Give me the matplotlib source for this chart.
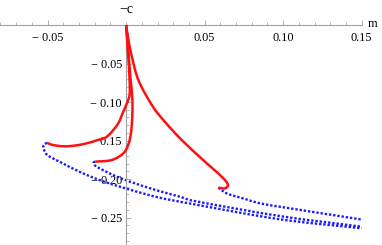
import matplotlib
matplotlib.use("Agg")
import numpy as np
import matplotlib.pyplot as plt
from matplotlib.path import Path
from matplotlib.patches import PathPatch
from matplotlib.ticker import MultipleLocator, FixedLocator

# Red (solid) branches
red_a_x = [0, 0.0013, 0.0022, 0.0022, 0.0006, -0.0019, -0.0051, -0.0123, -0.0186, -0.0250, -0.0324, -0.0399, -0.0473, -0.0504]
red_a_y = [0, -0.0390, -0.0714, -0.0909, -0.1013, -0.1130, -0.1279, -0.1451, -0.1497, -0.1536, -0.1565, -0.1575, -0.1555, -0.1529]

red_b_x = [0, 0.0016, 0.0029, 0.0040, 0.0038, 0.0029, 0.0013, -0.0017, -0.0091, -0.0197]
red_b_y = [0, -0.0390, -0.0714, -0.0974, -0.1234, -0.1429, -0.1558, -0.1666, -0.1753, -0.1775]

red_c_x = [0, 0.0012, 0.0032, 0.0078, 0.0172, 0.0248, 0.0354, 0.0490, 0.0617, 0.0649, 0.0630, 0.0587]
red_c_y = [0, -0.0160, -0.0370, -0.0714, -0.1065, -0.1260, -0.1494, -0.1753, -0.1987, -0.2078, -0.2121, -0.2113]

# Blue (dotted) branches
blue_1_x = [-0.0504, -0.0526, -0.0522, -0.0502, -0.0420, -0.0293, -0.0165, 0.0004, 0.0195, 0.0413, 0.0979, 0.1499]
blue_1_y = [-0.1529, -0.1562, -0.1623, -0.1688, -0.1779, -0.1909, -0.2017, -0.2126, -0.2234, -0.2321, -0.2523, -0.2640]

blue_2_x = [-0.0197, -0.0207, -0.0194, -0.0083, 0.0025, 0.0200, 0.0343, 0.0413, 0.0979, 0.1499]
blue_2_y = [-0.1775, -0.1786, -0.1831, -0.1948, -0.2035, -0.2150, -0.2230, -0.2277, -0.2481, -0.2619]

blue_3_x = [0.0587, 0.0640, 0.0752, 0.0852, 0.0979, 0.1499]
blue_3_y = [-0.2113, -0.2186, -0.2256, -0.2316, -0.2360, -0.2526]

x_major = [-0.05, 0.05, 0.10, 0.15]
x_labels = ["\u2212 0.05", "0.05", "0.10", "0.15"]
y_major = [-0.05, -0.10, -0.15, -0.20, -0.25]
y_labels = ["\u2212 0.05", "\u2212 0.10", "\u2212 0.15", "\u2212 0.20", "\u2212 0.25"]

W, H = 382, 245
SX, SY = 78.6 / 0.05, 38.5 / 0.05  # pixels per data unit (for smooth tangents)


def smooth_path(xs, ys):
    """Cubic Bezier path through the given points (Catmull-Rom style tangents)."""
    P = np.column_stack([np.asarray(xs) * SX, np.asarray(ys) * SY])
    n = len(P)
    d = np.linalg.norm(np.diff(P, axis=0), axis=1)
    T = np.zeros_like(P)
    for i in range(n):
        if i == 0:
            T[i] = (P[1] - P[0]) / d[0]
        elif i == n - 1:
            T[i] = (P[-1] - P[-2]) / d[-1]
        else:
            T[i] = (P[i + 1] - P[i - 1]) / (d[i - 1] + d[i])
    verts = [P[0]]
    codes = [Path.MOVETO]
    for i in range(n - 1):
        c1 = P[i] + T[i] * d[i] / 3
        c2 = P[i + 1] - T[i + 1] * d[i] / 3
        verts += [c1, c2, P[i + 1]]
        codes += [Path.CURVE4] * 3
    V = np.array(verts)
    V[:, 0] /= SX
    V[:, 1] /= SY
    return Path(V, codes)


fig = plt.figure(figsize=(W / 100, H / 100), dpi=100)
ax = fig.add_axes([0, 0, 361.7 / W, 220 / H])
ax.set_xlim(-0.0803, 0.15)
ax.set_ylim(-0.2857, 0)

for bx, by in [(blue_1_x, blue_1_y), (blue_2_x, blue_2_y), (blue_3_x, blue_3_y)]:
    ax.add_patch(PathPatch(smooth_path(bx, by), fill=False, edgecolor="#1a1aff", lw=1.7,
                           linestyle=(0, (1.0, 0.8)), capstyle="butt", zorder=2, clip_on=False))
for rx, ry in [(red_a_x, red_a_y), (red_b_x, red_b_y), (red_c_x, red_c_y)]:
    ax.add_patch(PathPatch(smooth_path(rx, ry), fill=False, edgecolor="#ff1010", lw=1.8,
                           zorder=3, clip_on=False))

for s in ["top", "right"]:
    ax.spines[s].set_visible(False)
ax.spines["left"].set_position(("data", 0))
ax.spines["bottom"].set_position(("data", 0))
for s in ["left", "bottom"]:
    ax.spines[s].set_color("#a0a0a0")
    ax.spines[s].set_linewidth(0.8)

serif = "Liberation Serif"
ax.xaxis.set_major_locator(FixedLocator(x_major))
ax.set_xticklabels(x_labels, fontfamily=serif, fontsize=8.8)
ax.xaxis.set_minor_locator(MultipleLocator(0.01))
ax.yaxis.set_major_locator(FixedLocator(y_major))
ax.set_yticklabels(y_labels, fontfamily=serif, fontsize=8.8)
ax.yaxis.set_minor_locator(MultipleLocator(0.01))
ax.tick_params(axis="x", which="both", direction="in", colors="#a0a0a0", labelcolor="black", pad=5)
ax.tick_params(axis="y", which="both", direction="in", colors="#a0a0a0", labelcolor="black", pad=3)
ax.tick_params(which="major", length=3.5, width=0.6)
ax.tick_params(which="minor", length=2, width=0.5)
ax.patch.set_visible(False)

fig.text(126 / W, 1 - 9.5 / H, "\u2212c", ha="center", va="center", fontfamily=serif, fontsize=10)
fig.text(373 / W, 1 - 24 / H, "m", ha="center", va="center", fontfamily=serif, fontsize=9)

fig.savefig("out.png", dpi=100)
